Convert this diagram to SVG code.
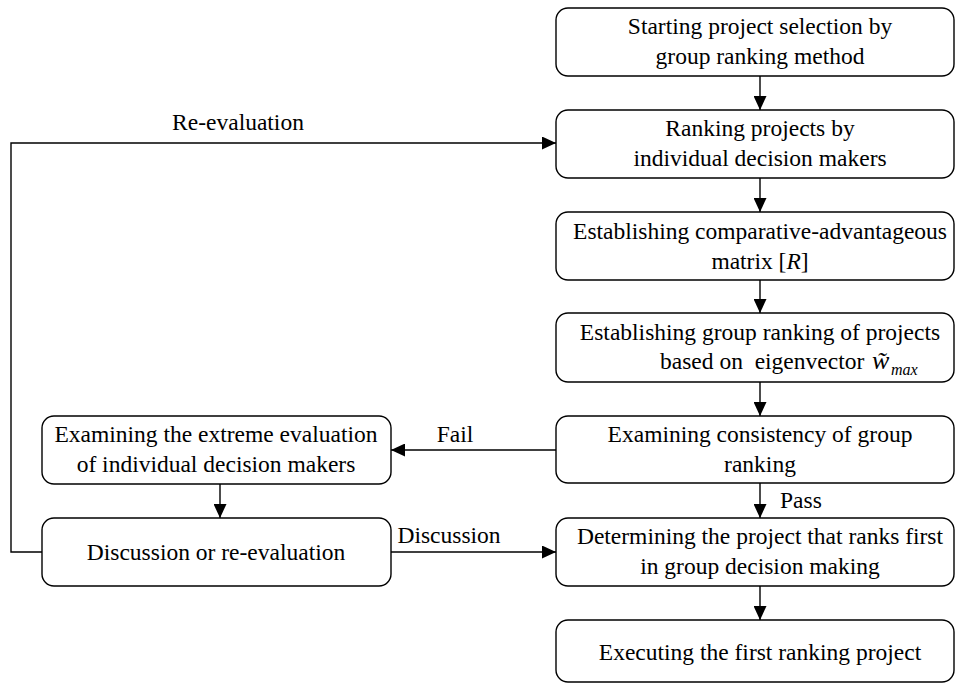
<svg xmlns="http://www.w3.org/2000/svg" width="956" height="684" viewBox="0 0 956 684">
<style>
.box{fill:#fff;stroke:#000;stroke-width:1.4}
.t{font-family:"Liberation Serif","Times New Roman",serif;font-size:23.5px;fill:#000;text-anchor:middle}
.c{fill:none;stroke:#000;stroke-width:1.4}
</style>
<defs>
<marker id="ah" markerUnits="userSpaceOnUse" markerWidth="15" markerHeight="13" refX="14" refY="6.5" orient="auto">
<path d="M0,0 L14,6.5 L0,13 Z" fill="#000"/>
</marker>
</defs>
<rect width="956" height="684" fill="#fff"/>
<g id="connectors">
<line class="c" x1="760" y1="76" x2="760" y2="110" marker-end="url(#ah)"/>
<line class="c" x1="760" y1="178" x2="760" y2="212" marker-end="url(#ah)"/>
<line class="c" x1="760" y1="280" x2="760" y2="313" marker-end="url(#ah)"/>
<line class="c" x1="760" y1="382" x2="760" y2="416" marker-end="url(#ah)"/>
<line class="c" x1="760" y1="483" x2="760" y2="518" marker-end="url(#ah)"/>
<line class="c" x1="760" y1="586" x2="760" y2="620" marker-end="url(#ah)"/>
<line class="c" x1="556" y1="450" x2="391" y2="450" marker-end="url(#ah)"/>
<line class="c" x1="220" y1="484" x2="220" y2="518" marker-end="url(#ah)"/>
<line class="c" x1="391" y1="552" x2="556" y2="552" marker-end="url(#ah)"/>
<polyline class="c" points="42,552 11,552 11,143 556,143" marker-end="url(#ah)"/>
<text class="t" x="238" y="130">Re-evaluation</text>
<text class="t" x="455" y="442">Fail</text>
<text class="t" x="780" y="508" style="text-anchor:start">Pass</text>
<text class="t" x="449" y="543">Discussion</text>
</g>
<g id="n1">
<rect class="box" x="556" y="8" width="398" height="68" rx="12"/>
<text class="t" x="760" y="34">Starting project selection by</text>
<text class="t" x="760" y="64">group ranking method</text>
</g>
<g id="n2">
<rect class="box" x="556" y="110" width="398" height="68" rx="12"/>
<text class="t" x="760" y="136">Ranking projects by</text>
<text class="t" x="760" y="166">individual decision makers</text>
</g>
<g id="n3">
<rect class="box" x="556" y="212" width="398" height="68" rx="12"/>
<text class="t" x="760" y="239">Establishing comparative-advantageous</text>
<text class="t" x="760" y="269">matrix [<tspan font-style="italic">R</tspan>]</text>
</g>
<g id="n4">
<rect class="box" x="556" y="313" width="398" height="69" rx="12"/>
<text class="t" x="760" y="340">Establishing group ranking of projects</text>
<text class="t" x="660" y="369" style="text-anchor:start" xml:space="preserve">based on  eigenvector <tspan x="872" font-style="italic" font-size="26">w̃</tspan><tspan x="891" dy="6" font-style="italic" font-size="16">max</tspan></text>
</g>
<g id="n5">
<rect class="box" x="556" y="416" width="398" height="67" rx="12"/>
<text class="t" x="760" y="442">Examining consistency of group</text>
<text class="t" x="760" y="472">ranking</text>
</g>
<g id="n6">
<rect class="box" x="556" y="518" width="398" height="68" rx="12"/>
<text class="t" x="760" y="544">Determining the project that ranks first</text>
<text class="t" x="760" y="574">in group decision making</text>
</g>
<g id="n7">
<rect class="box" x="556" y="620" width="398" height="62" rx="12"/>
<text class="t" x="760" y="660">Executing the first ranking project</text>
</g>
<g id="n8">
<rect class="box" x="42" y="416" width="349" height="68" rx="12"/>
<text class="t" x="216" y="442">Examining the extreme evaluation</text>
<text class="t" x="216" y="472">of individual decision makers</text>
</g>
<g id="n9">
<rect class="box" x="42" y="518" width="349" height="68" rx="12"/>
<text class="t" x="216" y="560">Discussion or re-evaluation</text>
</g>
</svg>
